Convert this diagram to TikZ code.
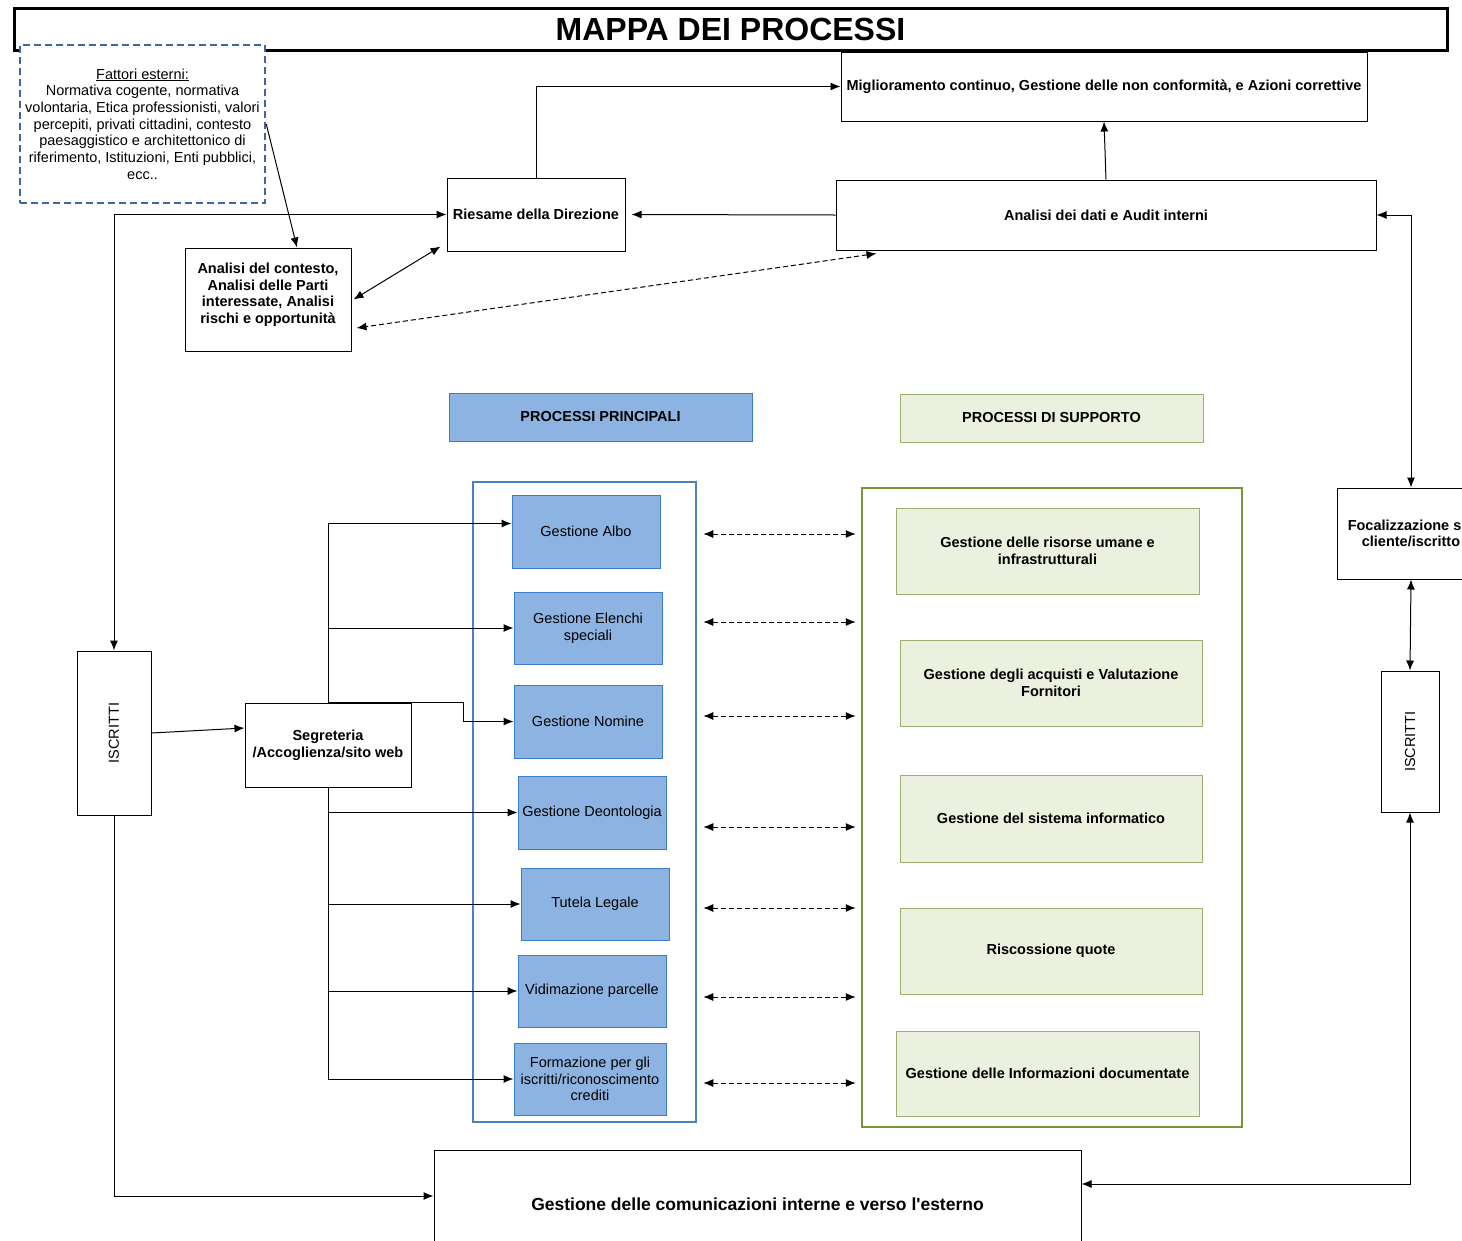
\documentclass[tikz,border=0pt]{standalone}
\usepackage{fontspec}
\setmainfont{Liberation Sans}
\usetikzlibrary{calc,arrows.meta}
\definecolor{bluefill}{HTML}{8DB3E2}
\definecolor{blueline}{HTML}{3A7DC9}
\definecolor{bluecont}{HTML}{4A7FC1}
\definecolor{greenfill}{HTML}{EBF1DE}
\definecolor{greenline}{HTML}{9BB06E}
\definecolor{greencont}{HTML}{77933C}
\definecolor{dashblue}{HTML}{3D67A3}
\tikzset{line/.style={draw, line width=1pt, ->}}

\begin{document}
\begin{tikzpicture}[x=1pt, y=-1pt, >={Latex[length=10pt,width=8pt]}]
\tikzstyle{box} = [rectangle, draw, line width=1pt, fill=white, inner sep=0pt, align=center, font=\fontsize{14.5}{16.7}\selectfont\bfseries]
\tikzstyle{pbox} = [box, draw=blueline, fill=bluefill, font=\fontsize{14.5}{16.7}\selectfont, minimum width=148, minimum height=73]
\tikzstyle{sbox} = [box, draw=greenline, fill=greenfill, minimum width=303, minimum height=86]
\tikzstyle{cont} = [rectangle, inner sep=0pt, line width=2.5pt]
\tikzstyle{dline} = [draw, line width=1pt, dash pattern=on 5pt off 3pt, <->]

\clip (0,0) rectangle (1462,1240);

% titolo e fattori esterni
\node [box, line width=3pt, minimum width=1433, minimum height=42, font=\fontsize{32}{36}\selectfont\bfseries](title) at (730.5,29){MAPPA DEI PROCESSI};
\node [box, draw=dashblue, line width=2.5pt, dash pattern=on 7pt off 4pt, minimum width=245, minimum height=158, font=\fontsize{14.5}{16.7}\selectfont](fattori) at (142.5,124){\underline{Fattori esterni:}\\Normativa cogente, normativa\\volontaria, Etica professionisti, valori\\percepiti, privati cittadini, contesto\\paesaggistico e architettonico di\\riferimento, Istituzioni, Enti pubblici,\\ecc..};

% direzione
\node [box, minimum width=526, minimum height=69](miglio) at (1104,86.5){Miglioramento continuo, Gestione delle non conformità, e Azioni correttive};
\node [box, minimum width=178, minimum height=73](riesame) at (536,214.5){Riesame della Direzione};
\node [box, minimum width=540, minimum height=70](audit) at (1106,215){Analisi dei dati e Audit interni};
\node [box, minimum width=166, minimum height=103](contesto) at (268,299.5){Analisi del contesto,\\Analisi delle Parti\\interessate, Analisi\\rischi e opportunità\\[-4pt]};

% intestazioni
\node [box, draw=blueline, fill=bluefill, minimum width=303, minimum height=48](pp) at (600.5,417){PROCESSI PRINCIPALI};
\node [box, draw=greenline, fill=greenfill, minimum width=303, minimum height=48](ps) at (1051.5,418){PROCESSI DI SUPPORTO};

% contenitori
\node [cont, draw=bluecont, minimum width=223, minimum height=640](blue) at (584.5,802){};
\node [cont, draw=greencont, minimum width=380, minimum height=639](green) at (1052,807.5){};

% processi principali
\node [pbox](albo) at (586,531.5){Gestione Albo};
\node [pbox, minimum height=72](elenchi) at (588,628){Gestione Elenchi\\speciali};
\node [pbox](nomine) at (588,721.5){Gestione Nomine};
\node [pbox](deont) at (592,812.5){Gestione Deontologia};
\node [pbox, minimum height=72](tutela) at (595,904){Tutela Legale};
\node [pbox, minimum height=72](vidim) at (592,991){Vidimazione parcelle};
\node [pbox, minimum width=152, minimum height=72](formaz) at (590,1079){Formazione per gli\\iscritti/riconoscimento\\crediti};

% processi di supporto
\node [sbox](risorse) at (1047.5,551){Gestione delle risorse umane e\\infrastrutturali};
\node [sbox, minimum width=302](acquisti) at (1051,683){Gestione degli acquisti e Valutazione\\Fornitori};
\node [sbox, minimum width=302, minimum height=87](sistema) at (1051,818.5){Gestione del sistema informatico};
\node [sbox, minimum width=302](quote) at (1051,951){Riscossione quote};
\node [sbox, minimum height=85](info) at (1047.5,1073.5){Gestione delle Informazioni documentate};

% iscritti e comunicazione
\node [box, font=\fontsize{14.5}{16.7}\selectfont, minimum width=74, minimum height=164](iscr1) at (114,733){\rotatebox{90}{ISCRITTI}};
\node [box, minimum width=166, minimum height=84](segr) at (328,745){Segreteria\\/Accoglienza/sito web};
\node [box, font=\fontsize{14.5}{16.7}\selectfont, minimum width=58, minimum height=141](iscr2) at (1410,741.5){\rotatebox{90}{ISCRITTI}};
\node [box, minimum width=148, minimum height=91](focal) at (1411,533.5){Focalizzazione sul\\cliente/iscritto};
\node [box, minimum width=647, minimum height=108, font=\fontsize{17.5}{20}\selectfont\bfseries](comunic) at (757.5,1204){Gestione delle comunicazioni interne e verso l\textquotesingle esterno};

% frecce in alto
\draw [line] (riesame.north) |- (miglio.west);
\draw [line] (audit.north) -- (miglio.south);
\draw [line, shorten >=6pt] (audit.west) -- (riesame.east);
\draw [line] (fattori.east) -- ([xshift=29]contesto.north);
\draw [line, <->] ($(riesame.south west)+(-6,-5)$) -- ([xshift=2]contesto.east);
\draw [line, <->, dash pattern=on 5pt off 3pt] ($(audit.south west)+(41,3)$) -- ($(contesto.east)+(5,28.5)$);

% iscritti
\draw [line, <->] (riesame.west) -| (iscr1.north);
\draw [line] (iscr1.south) |- ([yshift=8]comunic.west);
\draw [line] (iscr1.east) -- ([yshift=17]segr.west);
\draw [line, <->] (audit.east) -| (focal.north);
\draw [line, <->] (focal.south) -- (iscr2.north);
\draw [line, <->] (iscr2.south) |- ([yshift=20]comunic.east);

% segreteria
\draw [line] (segr.north) |- ([yshift=8]albo.west);
\draw [line] (segr.north |- elenchi.west) -- (elenchi.west);
\draw [line] (segr.north) -- ++(135,0) |- (nomine.west);
\foreach \p in {deont, tutela, vidim, formaz}
	\draw [line] (segr.south) |- (\p.west);

% frecce tratteggiate
\foreach \p/\d in {albo/-2.5, elenchi/6, nomine/5.5, deont/-14.5, tutela/-4, vidim/-6, formaz/-4}
	\draw [dline] ([xshift=6,yshift=\d]blue.east |- \p.west) -- ([xshift=-5,yshift=\d]green.west |- \p.west);

\end{tikzpicture}
\end{document}
